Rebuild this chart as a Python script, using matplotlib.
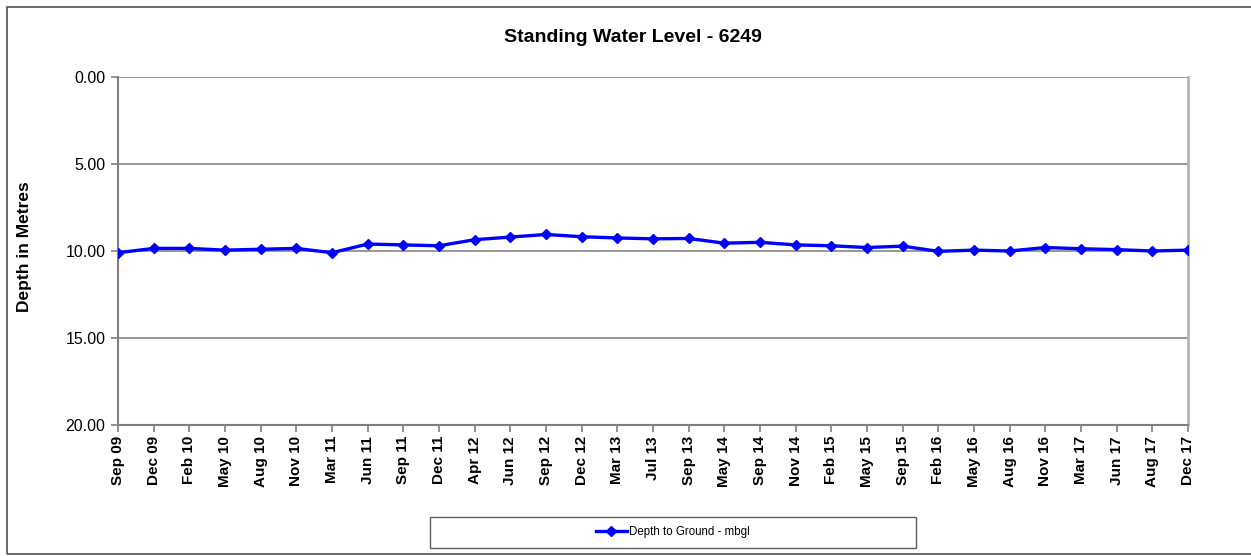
import matplotlib
matplotlib.use("Agg")
import matplotlib.pyplot as plt
from matplotlib.patches import Rectangle
from matplotlib.lines import Line2D

dates = ["Sep 09", "Dec 09", "Feb 10", "May 10", "Aug 10", "Nov 10", "Mar 11", "Jun 11",
         "Sep 11", "Dec 11", "Apr 12", "Jun 12", "Sep 12", "Dec 12", "Mar 13", "Jul 13",
         "Sep 13", "May 14", "Sep 14", "Nov 14", "Feb 15", "May 15", "Sep 15", "Feb 16",
         "May 16", "Aug 16", "Nov 16", "Mar 17", "Jun 17", "Aug 17", "Dec 17"]
depth = [10.10, 9.85, 9.85, 9.95, 9.90, 9.85, 10.10, 9.60,
         9.65, 9.70, 9.35, 9.20, 9.05, 9.18, 9.25, 9.30,
         9.28, 9.55, 9.50, 9.65, 9.70, 9.80, 9.72, 10.02,
         9.95, 10.00, 9.80, 9.87, 9.92, 10.00, 9.95]
y_ticks = [0, 5, 10, 15, 20]
title = "Standing Water Level - 6249"
ylabel = "Depth in Metres"
series_label = "Depth to Ground - mbgl"

plt.rcParams['font.family'] = ['Liberation Sans', 'DejaVu Sans']

W, H = 1251, 556
fig = plt.figure(figsize=(W / 100, H / 100), dpi=100)
fig.patch.set_facecolor("white")

# outer chart border
fig.patches.append(Rectangle((7 / W, 2 / H), 1.5, (554 - 7) / H,
                             transform=fig.transFigure, fill=False,
                             edgecolor="#505050", linewidth=1.2, zorder=0))

ax = fig.add_axes([118 / W, 1 - 425 / H, (1188 - 118) / W, (425 - 77) / H])
x = list(range(len(dates)))
ax.plot(x, depth, color="#0000ff", linewidth=2.4, marker="D", markersize=5,
        markeredgecolor="#0000ff", markerfacecolor="#0000ff", zorder=3,
        label=series_label)

ax.set_xlim(0, len(dates) - 1)
ax.set_ylim(20, 0)
ax.set_yticks(y_ticks)
ax.set_yticklabels([f"{v:.2f}" for v in y_ticks], fontsize=11.5)
ax.set_xticks(x)
ax.set_xticklabels(dates, rotation=90, fontsize=11, fontweight="bold")
ax.tick_params(axis="both", direction="out", length=5, width=1.2, color="#808080")
ax.tick_params(axis="x", pad=3)
ax.tick_params(axis="y", pad=4)

for v in y_ticks[:-1]:
    ax.axhline(v, color="#858585", linewidth=1.2, zorder=1)

ax.spines["top"].set_visible(False)
ax.spines["left"].set_color("#808080")
ax.spines["left"].set_linewidth(1.5)
ax.spines["bottom"].set_color("#808080")
ax.spines["bottom"].set_linewidth(1.5)
ax.spines["right"].set_color("#b4b4b4")
ax.spines["right"].set_linewidth(2)

fig.text(633 / W, 1 - 38 / H, title, ha="center", va="center",
         fontsize=14, fontweight="bold")
fig.text(25 / W, 1 - 247 / H, ylabel, ha="center", va="center", rotation=90,
         fontsize=12.5, fontweight="bold")

# legend box
fig.patches.append(Rectangle((430 / W, 1 - 548 / H), (916 - 430) / W, (548 - 517) / H,
                             transform=fig.transFigure, fill=False,
                             edgecolor="#606060", linewidth=1, zorder=1))
handle = Line2D([], [], color="#0000ff", linewidth=2.4, marker="D", markersize=5)
fig.legend([handle], [series_label], loc="center",
           bbox_to_anchor=(673 / W, 1 - 532 / H), frameon=False, fontsize=8.3,
           handlelength=2.7, handletextpad=0.2)

fig.savefig("out.png", dpi=100, facecolor="white")
